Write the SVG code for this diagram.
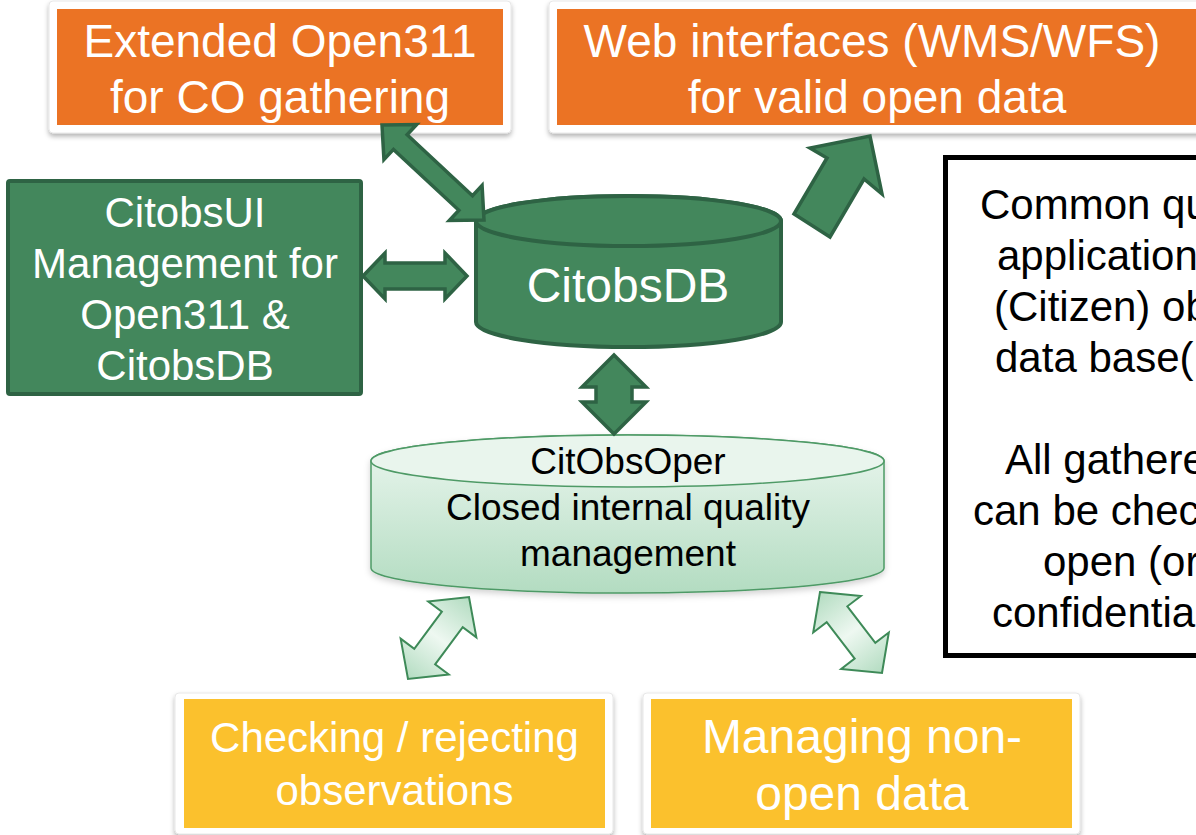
<svg xmlns="http://www.w3.org/2000/svg" width="1196" height="835" viewBox="0 0 1196 835">
<defs>
  <filter id="shadow" x="-5%" y="-10%" width="110%" height="125%">
    <feDropShadow dx="0" dy="3" stdDeviation="2.5" flood-color="#000" flood-opacity="0.3"/>
  </filter>
  <filter id="softshadow" x="-5%" y="-10%" width="110%" height="125%">
    <feDropShadow dx="0" dy="3" stdDeviation="3" flood-color="#000" flood-opacity="0.18"/>
  </filter>
  <linearGradient id="operGrad" x1="0" y1="0" x2="0" y2="1">
    <stop offset="0" stop-color="#ecf7f0"/>
    <stop offset="1" stop-color="#b3dcc1"/>
  </linearGradient>
  <linearGradient id="lightArrow" x1="0" y1="0" x2="1" y2="0">
    <stop offset="0" stop-color="#b3dcc1"/>
    <stop offset="0.5" stop-color="#eef8f1"/>
    <stop offset="1" stop-color="#b3dcc1"/>
  </linearGradient>
  <style>
    .frame { fill: #ffffff; stroke: #e2e2e2; stroke-width: 0.8; filter: url(#shadow); }
    .orange { fill: #eb7324; }
    .yellow { fill: #fbc12d; }
    .wtxt { fill: #ffffff; font-family: "Liberation Sans", Arial, sans-serif; text-anchor: middle; }
    .btxt { fill: #000000; font-family: "Liberation Sans", Arial, sans-serif; }
    .dark { fill: #43875c; stroke: #2e6344; stroke-width: 4; stroke-linejoin: round; }
    .darkArrow { fill: #43875c; stroke: #2e6344; stroke-width: 3.5; stroke-linejoin: miter; }
    .lightArr { fill: url(#lightArrow); stroke: #3e8a58; stroke-width: 2; }
  </style>
</defs>
<rect x="0" y="0" width="1196" height="835" fill="#ffffff"/>

<g id="node-open311">
  <rect class="frame" x="49" y="1" width="462" height="132" rx="4"/>
  <rect class="orange" x="57" y="9" width="446" height="116"/>
  <text class="wtxt" x="280" y="57" font-size="46">Extended Open311</text>
  <text class="wtxt" x="280" y="113" font-size="46">for CO gathering</text>
</g>

<g id="node-web">
  <rect class="frame" x="549" y="1" width="670" height="132" rx="4"/>
  <rect class="orange" x="557" y="9" width="654" height="116"/>
  <text class="wtxt" x="872" y="57" font-size="46">Web interfaces (WMS/WFS)</text>
  <text class="wtxt" x="877" y="113" font-size="46">for valid open data</text>
</g>

<g id="node-citobsui">
  <rect class="dark" x="8" y="181" width="353" height="213" rx="2"/>
  <text class="wtxt" x="185" y="227" font-size="42">CitobsUI</text>
  <text class="wtxt" x="185" y="278" font-size="42">Management for</text>
  <text class="wtxt" x="185" y="329" font-size="42">Open311 &amp;</text>
  <text class="wtxt" x="185" y="380" font-size="42">CitobsDB</text>
</g>

<g id="node-citobsdb">
  <path class="dark" d="M476,221 A152.5,25 0 0 1 781,221 L781,322 A152.5,25 0 0 1 476,322 Z"/>
  <ellipse class="dark" cx="628.5" cy="221" rx="152.5" ry="25"/>
  <text class="wtxt" x="628" y="302" font-size="48">CitobsDB</text>
</g>

<g id="node-citobsoper">
  <path d="M371,461 A256.5,26 0 0 1 884,461 L884,568 A256.5,25 0 0 1 371,568 Z" fill="url(#operGrad)" stroke="#4e9a66" stroke-width="1.5" filter="url(#softshadow)"/>
  <ellipse cx="627.5" cy="461" rx="256.5" ry="26" fill="#e9f5ed" stroke="#4e9a66" stroke-width="1.5"/>
  <text class="btxt" x="628" y="474" font-size="37" text-anchor="middle">CitObsOper</text>
  <text class="btxt" x="628" y="520" font-size="37" text-anchor="middle">Closed internal quality</text>
  <text class="btxt" x="628" y="566" font-size="37" text-anchor="middle">management</text>
</g>

<g id="node-note">
  <rect x="945.5" y="157.5" width="400" height="498" fill="#ffffff" stroke="#000000" stroke-width="5"/>
  <text class="btxt" x="980" y="219" font-size="42">Common qu</text>
  <text class="btxt" x="997" y="270" font-size="42">application</text>
  <text class="btxt" x="994" y="321" font-size="42">(Citizen) ob</text>
  <text class="btxt" x="995" y="372" font-size="42">data base(</text>
  <text class="btxt" x="1005" y="474" font-size="42">All gathere</text>
  <text class="btxt" x="973" y="525" font-size="42">can be chec</text>
  <text class="btxt" x="1043" y="576" font-size="42">open (or</text>
  <text class="btxt" x="992" y="627" font-size="42">confidentia</text>
</g>

<g id="node-checking">
  <rect class="frame" x="175" y="693" width="438" height="141" rx="4"/>
  <rect class="yellow" x="184" y="699" width="421" height="129"/>
  <text class="wtxt" x="394.5" y="752" font-size="42">Checking / rejecting</text>
  <text class="wtxt" x="394.5" y="805" font-size="42">observations</text>
</g>

<g id="node-managing">
  <rect class="frame" x="643" y="693" width="437" height="141" rx="4"/>
  <rect class="yellow" x="651" y="699" width="421" height="129"/>
  <text class="wtxt" x="862" y="753" font-size="48">Managing non-</text>
  <text class="wtxt" x="862" y="810" font-size="48">open data</text>
</g>

<g id="connectors">
  <polygon class="darkArrow" transform="translate(382,125) rotate(42.97)" points="0,0 25,-24 25,-10 114.4,-10 114.4,-24 139.4,0 114.4,24 114.4,10 25,10 25,24"/>
  <polygon class="darkArrow" transform="translate(363,276)" points="0,0 22,-23 22,-13 82,-13 82,-23 104,0 82,23 82,13 22,13 22,23"/>
  <polygon class="darkArrow" transform="translate(614,355) rotate(90)" points="0,0 32,-32 32,-18 47,-18 47,-32 79,0 47,32 47,18 32,18 32,32"/>
  <polygon class="darkArrow" points="870,136 882,194 864,179 830,237 794,214 827,158 810,148"/>
  <polygon class="lightArr" transform="translate(408,679) rotate(-53.35)" points="0,0 28,-30 28,-13 74.2,-13 74.2,-30 102.2,0 74.2,30 74.2,13 28,13 28,30"/>
  <polygon class="lightArr" transform="translate(820,592) rotate(52.56)" points="0,0 28,-30 28,-13 74,-13 74,-30 102,0 74,30 74,13 28,13 28,30"/>
</g>
</svg>
